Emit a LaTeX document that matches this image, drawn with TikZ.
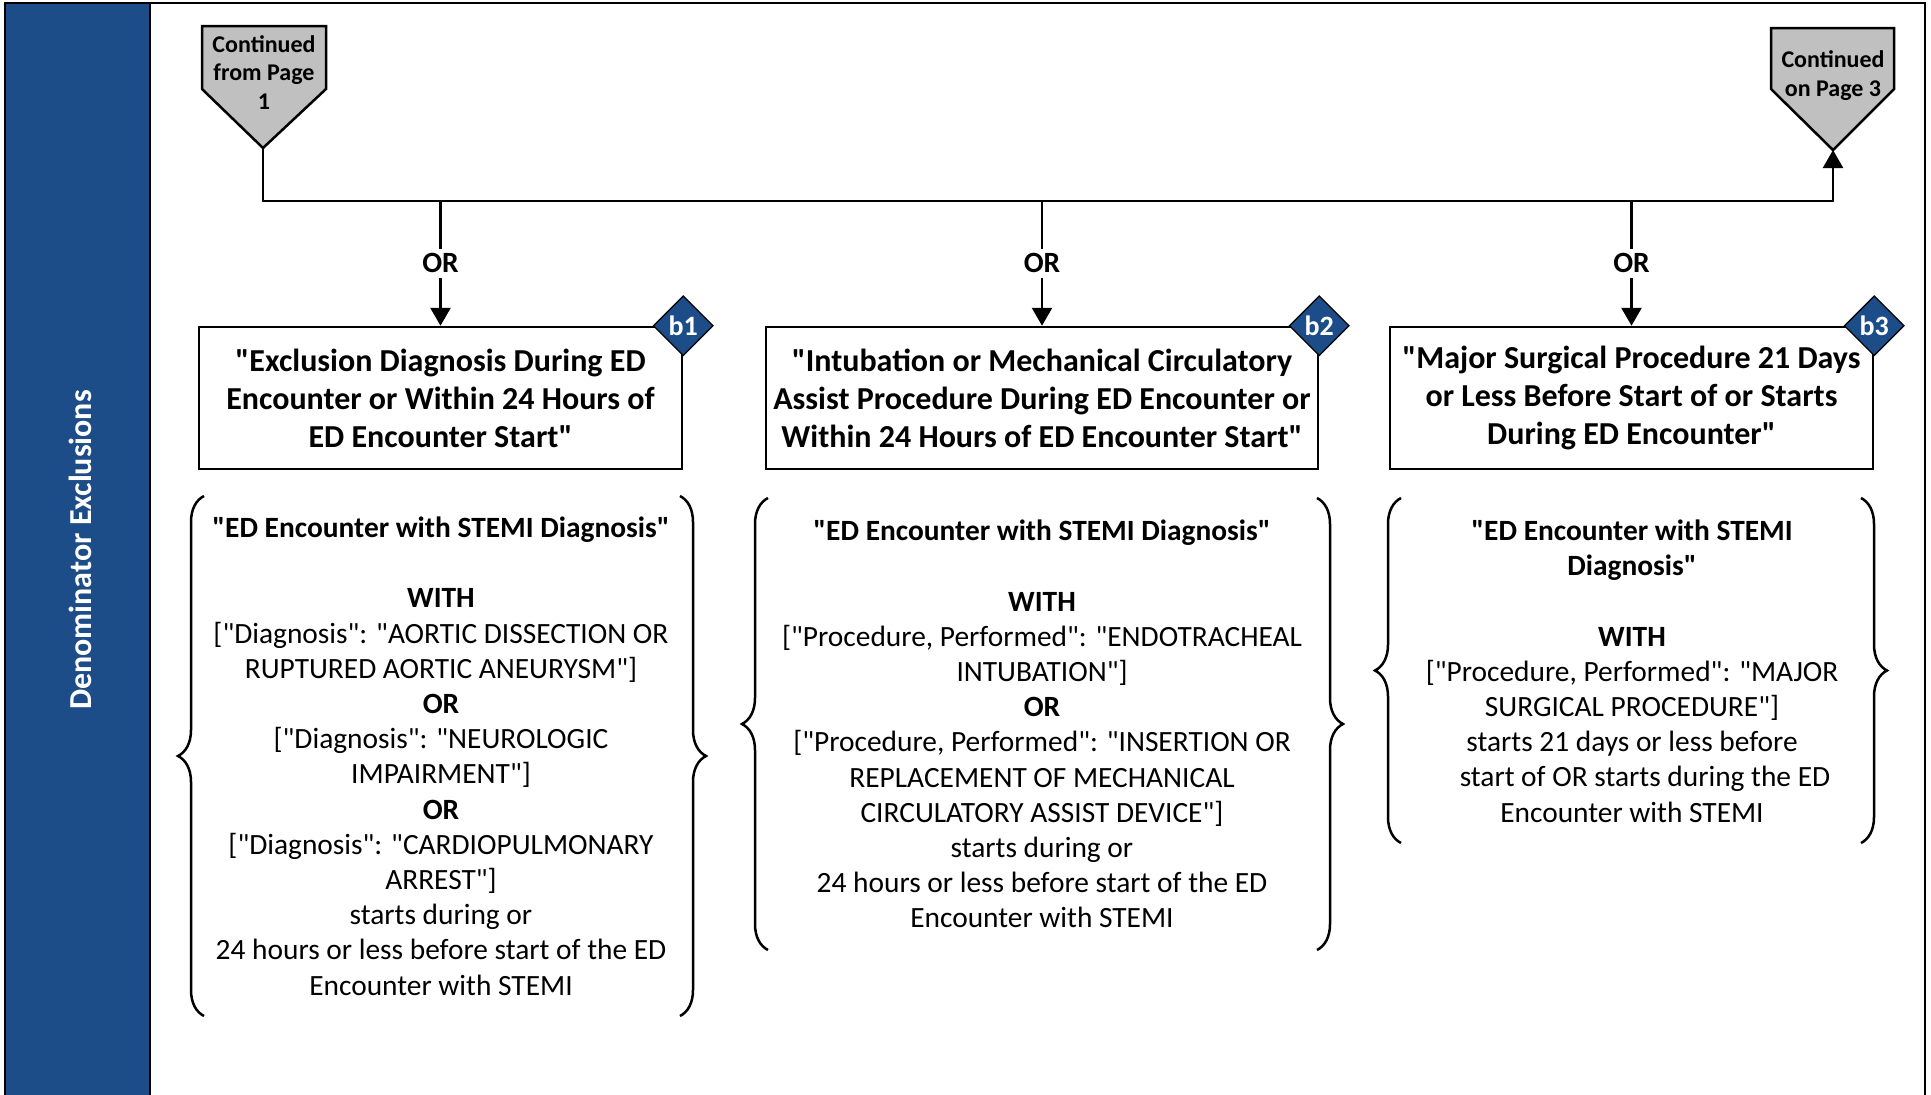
\documentclass[tikz,border=0pt]{standalone}
\usepackage{fontspec}
\setmainfont{Carlito}[Ligatures=TeXOff]
\newcommand{\qq}{\symbol{34}}
\usetikzlibrary{arrows.meta,shapes.geometric,decorations.pathreplacing}
\definecolor{bandblue}{HTML}{1C4D88}
\definecolor{pentgray}{HTML}{C0C0C0}
\begin{document}
\begin{tikzpicture}[x=1pt,y=-1pt,
  conn/.style={line width=2.5pt},
  arr/.style={conn,-{Triangle[width=20pt,length=18pt]}},
  hdr/.style={draw,line width=2.5pt,align=center,font=\fontsize{32}{38}\selectfont\bfseries,inner sep=0pt},
  body/.style={align=center,font=\fontsize{29.4}{35.2}\selectfont,inner sep=0pt},
  orlbl/.style={fill=white,font=\fontsize{29.4}{35}\selectfont\bfseries,inner sep=5pt},
  badge/.style={diamond,fill=bandblue,draw=black,line width=1.2pt,text=white,font=\fontsize{28}{30}\selectfont\bfseries,minimum width=60pt,minimum height=60pt,inner sep=0pt},
  brc/.style={decorate,decoration={brace,amplitude=26pt},line width=2.5pt},
  pent/.style={fill=pentgray,draw=black,line width=2.5pt,line join=miter},
  pentxt/.style={align=center,font=\fontsize{24}{28.5}\selectfont\bfseries,inner sep=0pt},
  frame/.style={line width=2.5pt},
  sidelbl/.style={rotate=90,text=white,font=\fontsize{32}{36}\selectfont\bfseries,inner sep=0pt}]
\useasboundingbox (0,0) rectangle (1931,1095);
% frame and side band
\fill[bandblue] (5,3) rectangle (150,1095);
\draw[frame] (5,1095) -- (5,3) -- (1925,3) -- (1925,1095);
\draw[frame] (150,3) -- (150,1095);
\node[sidelbl] (side) at (80,550) {Denominator Exclusions};
% off-page connectors
\draw[pent] (202,26) -- (326,26) -- (326,89) -- (263,148) -- (202,89) -- cycle;
\coordinate (p1tip) at (263,148);
\node[pentxt] (p1) at (264,72.5) {Continued\\from Page\\1};
\draw[pent] (1771,28) -- (1894,28) -- (1894,89) -- (1833,150) -- (1771,89) -- cycle;
\coordinate (p3tip) at (1833,150);
\node[pentxt] (p3) at (1833,75.5) {Continued\\on Page 3};
% header boxes
\node[hdr,minimum width=483pt,minimum height=142pt] (h1) at (440.5,398)
  {\qq Exclusion Diagnosis During ED\\Encounter or Within 24 Hours of\\ED Encounter Start\qq};
\node[hdr,minimum width=552pt,minimum height=142pt] (h2) at (1042,398)
  {\qq Intubation or Mechanical Circulatory\\Assist Procedure During ED Encounter or\\Within 24 Hours of ED Encounter Start\qq};
\node[hdr,minimum width=483pt,minimum height=142pt] (h3) at (1631.5,398)
  {\qq Major Surgical Procedure 21 Days\\or Less Before Start of or Starts\\During ED Encounter\qq};
\node[badge] (b1) at (h1.north east) {b1};
\node[badge] (b2) at (h2.north east) {b2};
\node[badge] (b3) at (h3.north east) {b3};
% bus
\coordinate (busR) at (1833,201);
\coordinate (d1) at (440.5,201);
\coordinate (d2) at (1042,201);
\coordinate (d3) at (1631.5,201);
\draw[arr] (p1tip) |- (busR) -- (p3tip);
\draw[arr] (d1) -- node[orlbl] (or1) {OR} (h1.north);
\draw[arr] (d2) -- node[orlbl] (or2) {OR} (h2.north);
\draw[arr] (d3) -- node[orlbl] (or3) {OR} (h3.north);
% detail groups
\node[body] (g1) at (441,756) {\textbf{\qq ED Encounter with STEMI Diagnosis\qq}\\[35.2pt]
  \textbf{WITH}\\
  {[}\qq Diagnosis\qq: \qq AORTIC DISSECTION OR\\
  RUPTURED AORTIC ANEURYSM\qq]\\
  \textbf{OR}\\
  {[}\qq Diagnosis\qq: \qq NEUROLOGIC\\
  IMPAIRMENT\qq]\\
  \textbf{OR}\\
  {[}\qq Diagnosis\qq: \qq CARDIOPULMONARY\\
  ARREST\qq]\\
  starts during or\\
  24 hours or less before start of the ED\\
  Encounter with STEMI};
\node[body] (g2) at (1042,724) {\textbf{\qq ED Encounter with STEMI Diagnosis\qq}\\[35.2pt]
  \textbf{WITH}\\
  {[}\qq Procedure, Performed\qq: \qq ENDOTRACHEAL\\
  INTUBATION\qq]\\
  \textbf{OR}\\
  {[}\qq Procedure, Performed\qq: \qq INSERTION OR\\
  REPLACEMENT OF MECHANICAL\\
  CIRCULATORY ASSIST DEVICE\qq]\\
  starts during or\\
  24 hours or less before start of the ED\\
  Encounter with STEMI};
\node[body] (g3) at (1632,671) {\textbf{\qq ED Encounter with STEMI}\\
  \textbf{Diagnosis\qq}\\[35.2pt]
  \textbf{WITH}\\
  {[}\qq Procedure, Performed\qq: \qq MAJOR\\
  SURGICAL PROCEDURE\qq]\\
  starts 21 days or less before\\
  \hspace*{26pt}start of OR starts during the ED\\
  Encounter with STEMI};
% braces
\draw[brc] (204,1016) -- (204,496);
\draw[brc] (680,496) -- (680,1016);
\draw[brc] (768,950) -- (768,498);
\draw[brc] (1317,498) -- (1317,950);
\draw[brc] (1401,843) -- (1401,498);
\draw[brc] (1861,498) -- (1861,843);
\end{tikzpicture}
\end{document}
